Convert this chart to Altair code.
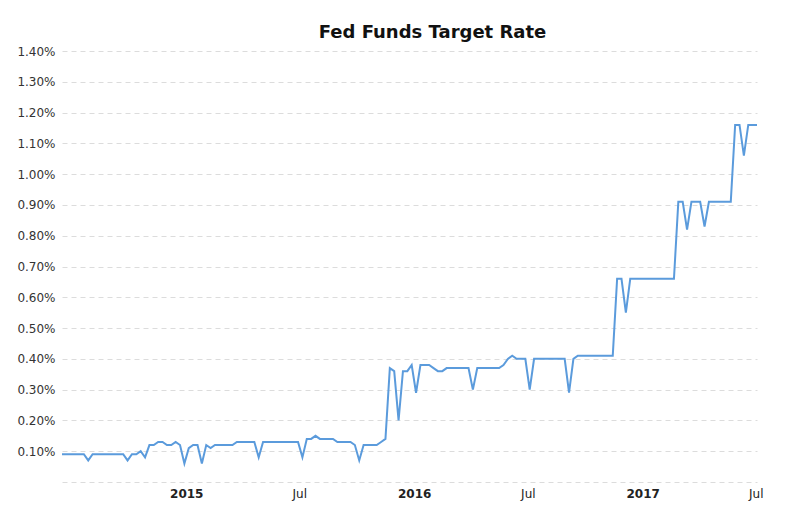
import altair as alt
import pandas as pd

# ---- data (weekly effective fed funds rate, %) ----
start_date = "2014-06-16"
rates = [
    0.09, 0.09, 0.09, 0.09, 0.09, 0.09, 0.07, 0.09, 0.09, 0.09,
    0.09, 0.09, 0.09, 0.09, 0.09, 0.07, 0.09, 0.09, 0.10, 0.08,
    0.12, 0.12, 0.13, 0.13, 0.12, 0.12, 0.13, 0.12, 0.06, 0.11,
    0.12, 0.12, 0.06, 0.12, 0.11, 0.12, 0.12, 0.12, 0.12, 0.12,
    0.13, 0.13, 0.13, 0.13, 0.13, 0.08, 0.13, 0.13, 0.13, 0.13,
    0.13, 0.13, 0.13, 0.13, 0.13, 0.08, 0.14, 0.14, 0.15, 0.14,
    0.14, 0.14, 0.14, 0.13, 0.13, 0.13, 0.13, 0.12, 0.07, 0.12,
    0.12, 0.12, 0.12, 0.13, 0.14, 0.37, 0.36, 0.20, 0.36, 0.36,
    0.38, 0.29, 0.38, 0.38, 0.38, 0.37, 0.36, 0.36, 0.37, 0.37,
    0.37, 0.37, 0.37, 0.37, 0.30, 0.37, 0.37, 0.37, 0.37, 0.37,
    0.37, 0.38, 0.40, 0.41, 0.40, 0.40, 0.40, 0.30, 0.40, 0.40,
    0.40, 0.40, 0.40, 0.40, 0.40, 0.40, 0.29, 0.40, 0.41, 0.41,
    0.41, 0.41, 0.41, 0.41, 0.41, 0.41, 0.41, 0.66, 0.66, 0.55,
    0.66, 0.66, 0.66, 0.66, 0.66, 0.66, 0.66, 0.66, 0.66, 0.66,
    0.66, 0.91, 0.91, 0.82, 0.91, 0.91, 0.91, 0.83, 0.91, 0.91,
    0.91, 0.91, 0.91, 0.91, 1.16, 1.16, 1.06, 1.16, 1.16, 1.16,
]
y_ticks = [0.0, 0.1, 0.2, 0.3, 0.4, 0.5, 0.6, 0.7, 0.8, 0.9, 1.0, 1.1, 1.2, 1.3, 1.4]
x_ticks = [(2015, 1), (2015, 7), (2016, 1), (2016, 7), (2017, 1), (2017, 7)]
x_domain = [(2014, 6, 16), (2017, 7, 3)]
title_text = "Fed Funds Target Rate"

dates = pd.date_range(start_date, periods=len(rates), freq="7D")
df = pd.DataFrame({"date": dates, "rate": rates})

FONT = "DejaVu Sans"

x_axis = alt.Axis(
    values=[alt.DateTime(year=y, month=m, date=1) for y, m in x_ticks],
    labelExpr="month(datum.value) == 0 ? timeFormat(datum.value, '%Y') : 'Jul'",
    labelFontWeight={"condition": {"test": "month(datum.value) == 0", "value": "bold"}, "value": "normal"},
    labelFont=FONT,
    labelFontSize=12,
    labelColor="#222222",
    labelPadding=6,
    labelFlush=False,
    labelOverlap=False,
    grid=False,
    domain=False,
    ticks=False,
    title=None,
)

y_axis = alt.Axis(
    values=y_ticks,
    labelExpr="datum.value == 0 ? '' : format(datum.value, '.2f') + '%'",
    labelFont=FONT,
    labelFontSize=12,
    labelColor="#333333",
    labelPadding=7,
    grid=True,
    gridColor="#dcdcdc",
    gridDash=[5, 4],
    gridWidth=1,
    domain=False,
    ticks=False,
    title=None,
)

chart = (
    alt.Chart(df)
    .mark_line(color="#5b9bdc", strokeWidth=2)
    .encode(
        x=alt.X(
            "date:T",
            axis=x_axis,
            scale=alt.Scale(
                domain=[alt.DateTime(year=y, month=m, date=d) for y, m, d in x_domain],
                nice=False,
            ),
        ),
        y=alt.Y(
            "rate:Q",
            axis=y_axis,
            scale=alt.Scale(domain=[0, 1.4], nice=False, zero=True),
        ),
    )
    .properties(
        width=695,
        height=431,
        title=alt.TitleParams(
            text=title_text,
            font=FONT,
            fontSize=18,
            fontWeight="bold",
            color="#111111",
            anchor="middle",
            dx=23,
            offset=3,
        ),
        autosize=alt.AutoSizeParams(type="none"),
        padding={"left": 54, "top": 43, "right": 40, "bottom": 25},
    )
    .configure(background="white")
    .configure_view(strokeWidth=0, strokeOpacity=0)
)

chart.save("out.html", embed_options={"renderer": "svg", "actions": False})
